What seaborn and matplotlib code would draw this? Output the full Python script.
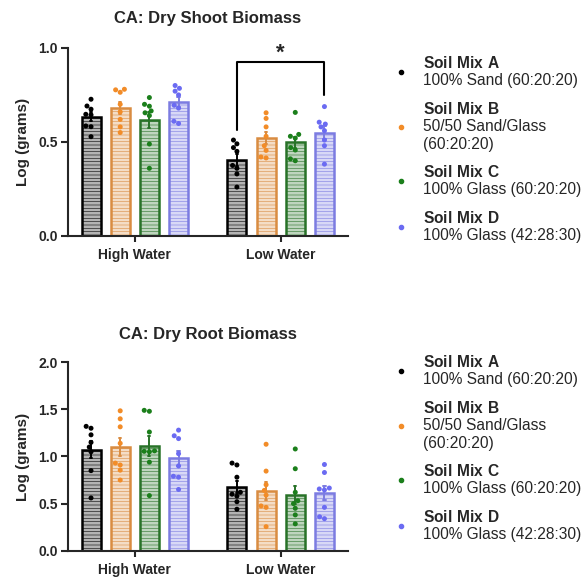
import numpy as np
import pandas as pd
import seaborn as sns
import matplotlib.pyplot as plt
from matplotlib.lines import Line2D

# categories
WATER = ["High Water", "Low Water"]
MIXES = ["Soil Mix A", "Soil Mix B", "Soil Mix C", "Soil Mix D"]
MIX_DESC = ["100% Sand (60:20:20)", "50/50 Sand/Glass\n(60:20:20)",
            "100% Glass (60:20:20)", "100% Glass (42:28:30)"]
COLORS = ["#000000", "#F28C28", "#1B7F1B", "#6B6BF2"]

# log(grams), one list per soil mix (A, B, C, D)
shoot_high = [
    [0.727, 0.691, 0.674, 0.647, 0.644, 0.585, 0.581, 0.528],
    [0.78, 0.777, 0.764, 0.70, 0.66, 0.62, 0.58, 0.55],
    [0.736, 0.70, 0.69, 0.665, 0.655, 0.64, 0.489, 0.36],
    [0.80, 0.785, 0.77, 0.75, 0.695, 0.68, 0.61, 0.598],
]
shoot_low = [
    [0.51, 0.49, 0.47, 0.45, 0.375, 0.36, 0.33, 0.26],
    [0.655, 0.625, 0.58, 0.53, 0.48, 0.455, 0.42, 0.415],
    [0.657, 0.54, 0.53, 0.52, 0.47, 0.457, 0.41, 0.40],
    [0.688, 0.605, 0.595, 0.58, 0.56, 0.51, 0.48, 0.382],
]
root_high = [
    [1.32, 1.30, 1.23, 1.15, 1.10, 1.05, 0.85, 0.56],
    [1.485, 1.40, 1.315, 1.14, 0.93, 0.91, 0.855, 0.75],
    [1.49, 1.48, 1.26, 1.06, 1.055, 1.05, 0.94, 0.585],
    [1.28, 1.22, 1.19, 1.03, 0.90, 0.79, 0.78, 0.65],
]
root_low = [
    [0.93, 0.91, 0.78, 0.62, 0.60, 0.58, 0.52, 0.44],
    [1.13, 0.845, 0.70, 0.64, 0.59, 0.475, 0.46, 0.255],
    [1.08, 0.87, 0.62, 0.53, 0.50, 0.45, 0.38, 0.285],
    [0.915, 0.83, 0.665, 0.655, 0.645, 0.46, 0.36, 0.34],
]

sns.set_style("ticks")
plt.rcParams["font.family"] = ["Liberation Sans", "DejaVu Sans"]
plt.rcParams["mathtext.fontset"] = "custom"
plt.rcParams["mathtext.rm"] = "Liberation Sans"
plt.rcParams["mathtext.bf"] = "Liberation Sans:bold"
plt.rcParams["hatch.linewidth"] = 0.4


def make_frame(high, low):
    rows = []
    for water, groups in zip(WATER, [high, low]):
        for mix, vals in zip(MIXES, groups):
            for v in vals:
                rows.append({"water": water, "mix": mix, "value": v})
    return pd.DataFrame(rows)


def draw_panel(ax, high, low, title, ymax, yticks, title_pad):
    df = make_frame(high, low)
    sns.barplot(data=df, x="water", y="value", hue="mix", order=WATER,
                hue_order=MIXES, palette=COLORS, errorbar="se", capsize=0.06,
                gap=0.35, linewidth=1.8, err_kws={"linewidth": 1.4},
                legend=False, ax=ax)
    bars = sorted(ax.patches, key=lambda p: p.get_x())
    for p in bars:
        c = np.array(p.get_facecolor())
        tint = c[:3] * 0.3 + 0.7
        p.set_edgecolor(c)
        p.set_facecolor(tint)
        p.set_hatch("-----")
    centers = np.array([p.get_x() + p.get_width() / 2 for p in bars])
    # colour error bars like their bars
    for ln in ax.lines:
        xm = np.nanmean(ln.get_xdata())
        ln.set_color(bars[np.argmin(abs(centers - xm))].get_edgecolor())
        ln.set_zorder(3)
    sns.swarmplot(data=df, x="water", y="value", hue="mix", order=WATER,
                  hue_order=MIXES, palette=COLORS, dodge=True, size=3.6,
                  legend=False, ax=ax, zorder=4)

    ax.set_xlim(-0.46, 1.46)
    ax.set_ylim(0, ymax)
    ax.set_yticks(yticks)
    ax.set_yticklabels([f"{t:.1f}" for t in yticks], fontweight="bold", fontsize=10)
    ax.set_xticks([0, 1])
    ax.set_xticklabels(WATER, fontweight="bold", fontsize=10)
    ax.set_xlabel("")
    ax.set_ylabel("Log (grams)", fontweight="bold", fontsize=11, labelpad=6)
    ax.set_title(title, fontweight="bold", fontsize=12, pad=title_pad)
    for s in ["left", "bottom"]:
        ax.spines[s].set_linewidth(1.5)
    sns.despine(ax=ax)
    ax.tick_params(axis="y", length=5, width=1.5, pad=2)
    ax.tick_params(axis="x", length=4, width=1.5, pad=5)
    return bars


def add_legend(ax, top):
    dots = [Line2D([], [], marker="o", linestyle="none", color=c, markersize=3)
            for c in COLORS]
    labels = [r"$\bf{" + m.replace(" ", r"\ ") + "}$\n" + d
              for m, d in zip(MIXES, MIX_DESC)]
    leg = ax.legend(dots, labels, loc="upper left", bbox_to_anchor=(395 / 586, top),
                    bbox_transform=ax.figure.transFigure, frameon=False,
                    fontsize=11.2, handlelength=0.8, handletextpad=1.0,
                    labelspacing=0.8, borderpad=0, borderaxespad=0)
    for t in leg.get_texts():
        t.set_linespacing(1.2)


fig = plt.figure(figsize=(5.86, 5.77), dpi=100)
ax1 = fig.add_axes([0.1155, 0.591, 0.478, 0.326])
ax2 = fig.add_axes([0.1155, 0.0456, 0.478, 0.3265])

bars = draw_panel(ax1, shoot_high, shoot_low, "CA: Dry Shoot Biomass", 1.0,
                  [0.0, 0.5, 1.0], 18)
draw_panel(ax2, root_high, root_low, "CA: Dry Root Biomass", 2.0,
           [0.0, 0.5, 1.0, 1.5, 2.0], 17)

# significance bracket between Soil Mix A and Soil Mix D under low water
xa = bars[4].get_x() + bars[4].get_width() / 2
xd = bars[7].get_x() + bars[7].get_width() / 2
ax1.plot([xa, xa, xd, xd], [0.565, 0.925, 0.925, 0.75], color="black",
         linewidth=1.5, clip_on=False, zorder=5)
ax1.text((xa + xd) / 2, 0.915, "*", ha="center", va="bottom", fontsize=16,
         fontweight="bold", clip_on=False)

add_legend(ax1, 1 - 55 / 577)
add_legend(ax2, 1 - 354 / 577)

fig.savefig("out.png", dpi=100)
